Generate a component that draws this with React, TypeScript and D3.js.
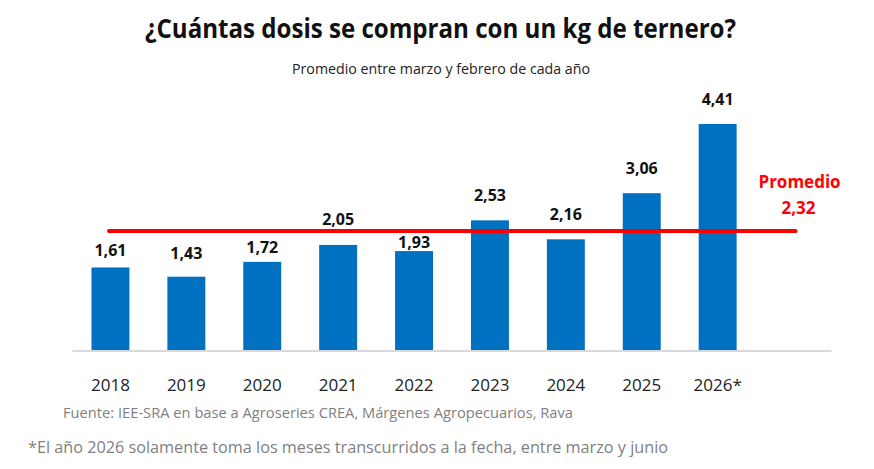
import * as d3 from "d3";
import { useEffect, useRef } from "react";

// Años (eje X) y dosis por kg de ternero
const years = ["2018", "2019", "2020", "2021", "2022", "2023", "2024", "2025", "2026*"];
const doses = [1.61, 1.43, 1.72, 2.05, 1.93, 2.53, 2.16, 3.06, 4.41];

// separación entre la etiqueta y la barra (como en el original, algunas van más pegadas)
const labelGap = [11, 18, 9, 20, 3, 19, 19, 19, 19];

const title = "¿Cuántas dosis se compran con un kg de ternero?";
const subtitle = "Promedio entre marzo y febrero de cada año";
const source = "Fuente: IEE-SRA en base a Agroseries CREA, Márgenes Agropecuarios, Rava";
const note = "*El año 2026 solamente toma los meses transcurridos a la fecha, entre marzo y junio";

const W = 874;
const H = 469;
const FONT = "'Open Sans', 'Noto Sans', sans-serif";

const fmt = (v: number) => d3.format(".2f")(v).replace(".", ",");

export default function App() {
  const svgRef = useRef<SVGSVGElement | null>(null);

  useEffect(() => {
    document.body.style.margin = "0";
    if (!svgRef.current) return;

    const svg = d3.select(svgRef.current);
    svg.selectAll("*").remove();

    const xScale = d3
      .scaleBand()
      .domain(years)
      .range([72.5, 72.5 + 75.9 * years.length])
      .paddingInner(0.5)
      .paddingOuter(0.25);

    const yScale = d3.scaleLinear().domain([0, 5]).range([350, 93.75]);

    const step = xScale.step();
    const average = d3.mean(doses) || 0;

    // Títulos
    svg
      .append("text")
      .attr("x", 145)
      .attr("y", 38)
      .attr("textLength", 591)
      .attr("lengthAdjust", "spacingAndGlyphs")
      .attr("font-family", FONT)
      .attr("font-weight", 700)
      .attr("font-size", 26)
      .attr("fill", "#111")
      .text(title);

    svg
      .append("text")
      .attr("x", 292)
      .attr("y", 74)
      .attr("textLength", 298)
      .attr("lengthAdjust", "spacingAndGlyphs")
      .attr("font-family", FONT)
      .attr("font-size", 15)
      .attr("fill", "#222")
      .text(subtitle);

    // Línea base
    svg
      .append("line")
      .attr("x1", xScale.range()[0])
      .attr("x2", xScale.range()[1] + step)
      .attr("y1", yScale(0) + 1)
      .attr("y2", yScale(0) + 1)
      .attr("stroke", "#d9d9d9")
      .attr("stroke-width", 2);

    // Barras
    svg
      .append("g")
      .selectAll("rect")
      .data(doses)
      .join("rect")
      .attr("x", (_, i) => xScale(years[i])!)
      .attr("y", (d) => yScale(d))
      .attr("width", xScale.bandwidth())
      .attr("height", (d) => yScale(0) - yScale(d))
      .attr("fill", "#0070C0");

    // Etiquetas de valor
    svg
      .append("g")
      .selectAll("text")
      .data(doses)
      .join("text")
      .attr("x", (_, i) => xScale(years[i])! + xScale.bandwidth() / 2)
      .attr("y", (d, i) => yScale(d) - labelGap[i])
      .attr("text-anchor", "middle")
      .attr("font-family", FONT)
      .attr("font-weight", 700)
      .attr("font-size", 16)
      .attr("fill", "#111")
      .text((d) => fmt(d));

    // Etiquetas del eje X
    svg
      .append("g")
      .selectAll("text")
      .data(years)
      .join("text")
      .attr("x", (d) => xScale(d)! + xScale.bandwidth() / 2)
      .attr("y", 391)
      .attr("text-anchor", "middle")
      .attr("font-family", FONT)
      .attr("font-size", 17)
      .attr("fill", "#222")
      .text((d) => d);

    // Línea de promedio
    const firstCenter = xScale(years[0])! + xScale.bandwidth() / 2;
    const extraCenter = xScale(years[years.length - 1])! + xScale.bandwidth() / 2 + step;

    svg
      .append("line")
      .attr("x1", firstCenter - 1.5)
      .attr("x2", extraCenter + 2)
      .attr("y1", yScale(average))
      .attr("y2", yScale(average))
      .attr("stroke", "#FF0000")
      .attr("stroke-width", 4)
      .attr("stroke-linecap", "round");

    svg
      .append("text")
      .attr("x", extraCenter + 6)
      .attr("y", 188)
      .attr("text-anchor", "middle")
      .attr("font-family", FONT)
      .attr("font-weight", 700)
      .attr("font-size", 17)
      .attr("fill", "#FF0000")
      .text("Promedio");

    svg
      .append("text")
      .attr("x", extraCenter + 5)
      .attr("y", 214)
      .attr("text-anchor", "middle")
      .attr("font-family", FONT)
      .attr("font-weight", 700)
      .attr("font-size", 17)
      .attr("fill", "#FF0000")
      .text(fmt(average));

    // Notas al pie
    svg
      .append("text")
      .attr("x", 63)
      .attr("y", 418)
      .attr("textLength", 510)
      .attr("lengthAdjust", "spacingAndGlyphs")
      .attr("font-family", FONT)
      .attr("font-size", 15)
      .attr("fill", "#7f7f7f")
      .text(source);

    svg
      .append("text")
      .attr("x", 28)
      .attr("y", 453)
      .attr("textLength", 640)
      .attr("lengthAdjust", "spacingAndGlyphs")
      .attr("font-family", FONT)
      .attr("font-size", 17)
      .attr("fill", "#7f7f7f")
      .text(note);
  }, []);

  return (
    <svg
      ref={svgRef}
      width={W}
      height={H}
      viewBox={`0 0 ${W} ${H}`}
      style={{ display: "block", background: "#fff" }}
    ></svg>
  );
}
